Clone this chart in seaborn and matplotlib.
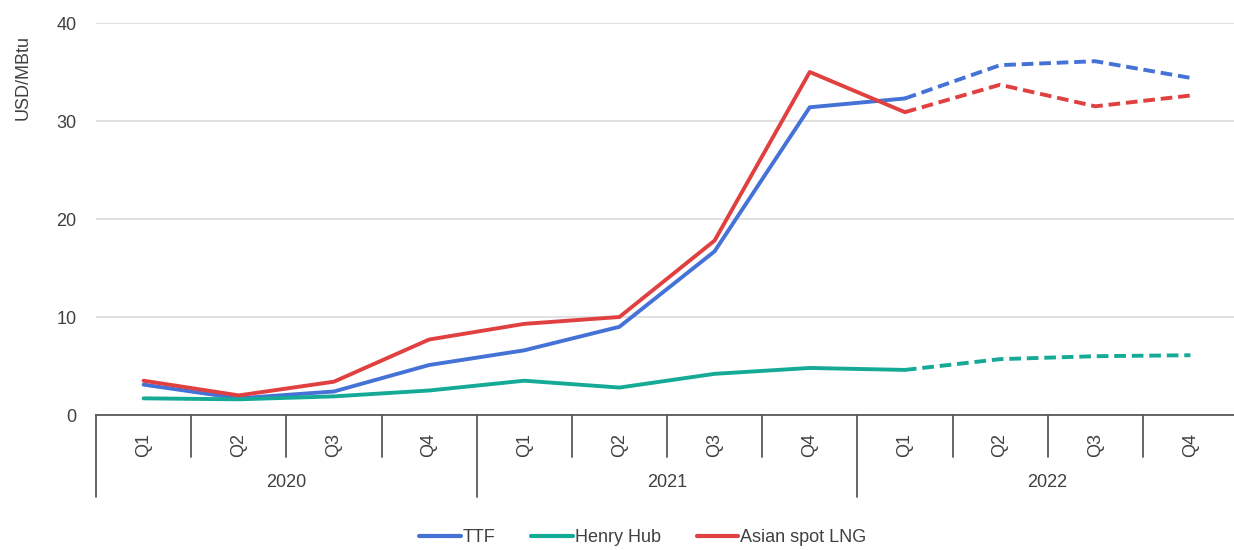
import numpy as np
import pandas as pd
import matplotlib
matplotlib.use("Agg")
import matplotlib.pyplot as plt
import matplotlib.transforms as mtransforms
from matplotlib.lines import Line2D
import seaborn as sns

# quarterly prices, USD/MBtu (2022 Q2-Q4 are forward values -> dashed)
years = ["2020", "2021", "2022"]
quarters = ["Q1", "Q2", "Q3", "Q4"]
ttf = [3.1, 1.7, 2.4, 5.1, 6.6, 9.0, 16.7, 31.4, 32.3, 35.7, 36.1, 34.4]
henry_hub = [1.7, 1.6, 1.9, 2.5, 3.5, 2.8, 4.2, 4.8, 4.6, 5.7, 6.0, 6.1]
asian_lng = [3.5, 2.0, 3.4, 7.7, 9.3, 10.0, 17.8, 35.0, 30.9, 33.7, 31.5, 32.6]
last_actual = 8  # index of 2022 Q1

series_names = ["TTF", "Henry Hub", "Asian spot LNG"]
colors = {"TTF": "#4472D6", "Henry Hub": "#15AA96", "Asian spot LNG": "#E04040"}

# long table for seaborn
periods = [f"{y} {q}" for y in years for q in quarters]
rows = []
for name, vals in zip(series_names, [ttf, henry_hub, asian_lng]):
    for i, v in enumerate(vals):
        if i <= last_actual:
            rows.append({"pos": i, "period": periods[i], "series": name, "value": v, "kind": "actual"})
        if i >= last_actual:
            rows.append({"pos": i, "period": periods[i], "series": name, "value": v, "kind": "forecast"})
df = pd.DataFrame(rows)

sns.set_style("white")
plt.rcParams["font.family"] = ["Liberation Sans", "DejaVu Sans"]
plt.rcParams["text.color"] = "#404040"

fig = plt.figure(figsize=(12.34, 5.5), dpi=100)
ax = fig.add_axes([96 / 1234, 1 - 415 / 550, 1142 / 1234, 392 / 550])

sns.lineplot(data=df, x="pos", y="value", hue="series", style="kind",
             palette=colors, hue_order=series_names,
             dashes={"actual": "", "forecast": (3, 1.5)},
             linewidth=2.8, legend=False, ax=ax)

ax.set_xlim(-0.5, 11.5)
ax.set_ylim(0, 40)
ax.set_yticks([0, 10, 20, 30, 40])
ax.tick_params(axis="y", length=0, pad=14, labelsize=13, labelcolor="#404040")
ax.yaxis.grid(True, color="#D9D9D9", linewidth=1.1)
ax.set_axisbelow(True)
ax.set_xlabel("")
ax.set_ylabel("USD/MBtu", fontsize=13, color="#404040")
ax.yaxis.set_label_coords(-0.056, 0.862)

for side in ["top", "right", "left"]:
    ax.spines[side].set_visible(False)
ax.spines["bottom"].set_color("#595959")
ax.spines["bottom"].set_linewidth(1.3)

# multi-level category axis
ax.set_xticks([])
trans = mtransforms.blended_transform_factory(ax.transData, ax.transAxes)
for k in range(len(periods) + 1):
    x = k - 0.5
    depth = -0.209 if k % 4 == 0 else -0.107
    ax.plot([x, x], [0, depth], transform=trans, color="#595959", lw=1.3, clip_on=False)
for i, p in enumerate(periods):
    ax.text(i, -0.0765, p.split()[1], transform=trans, rotation=90,
            ha="center", va="center", fontsize=13, color="#404040")
for j, y in enumerate(years):
    ax.text(j * 4 + 1.5, -0.173, y, transform=trans,
            ha="center", va="center", fontsize=13, color="#404040")

handles = [Line2D([0], [0], color=colors[n], lw=3) for n in series_names]
fig.legend(handles, series_names, loc="center", bbox_to_anchor=(0.521, 0.022),
           ncol=3, frameon=False, fontsize=13, handlelength=2.3,
           handletextpad=0.1, columnspacing=2.0)

fig.savefig("out.png", dpi=100)
